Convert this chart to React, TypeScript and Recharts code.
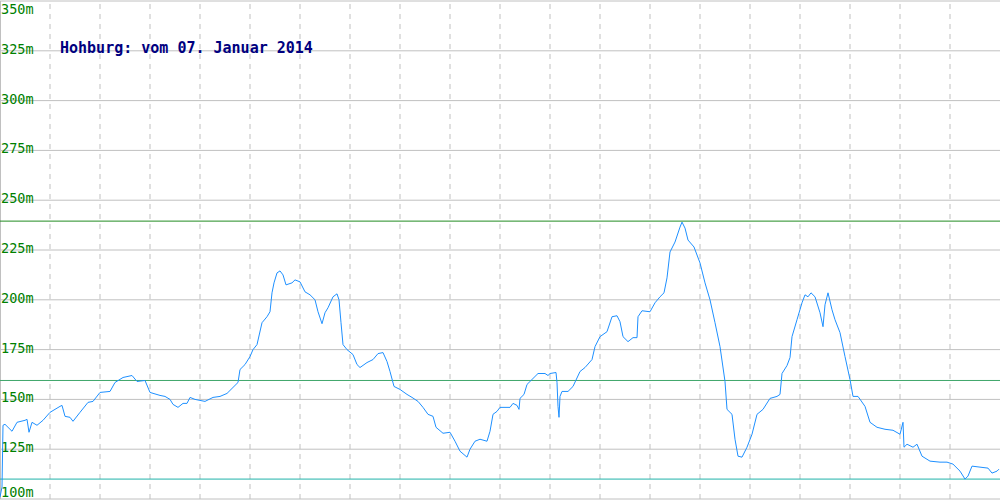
import { LineChart, Line, XAxis, YAxis, CartesianGrid, ReferenceLine } from 'recharts';

// Zeitindex (Messpunkte über den Tag) und Pegel in m
const time = [
    0, 2, 3, 5, 12, 17, 25, 27, 29, 32, 37, 43, 50, 60, 62, 65, 70, 73, 80, 88,
    93, 100, 110, 115, 123, 132, 137, 145, 150, 160, 165, 170, 173, 178, 183, 187, 190, 195, 200, 205,
    213, 220, 227, 232, 238, 240, 245, 250, 253, 257, 262, 267, 270, 272, 274, 277, 280, 283, 286, 292,
    295, 300, 305, 310, 315, 318, 322, 325, 328, 333, 337, 339, 341, 343, 347, 353, 357, 360, 367, 373,
    378, 383, 387, 390, 394, 400, 407, 412, 418, 423, 428, 433, 436, 443, 450, 455, 460, 467, 470, 475,
    480, 487, 490, 493, 497, 500, 510, 513, 517, 519, 520, 524, 527, 532, 538, 545, 548, 550, 556, 557,
    558, 559, 560, 562, 568, 573, 580, 585, 592, 595, 600, 607, 612, 617, 620, 623, 628, 633, 637, 638,
    642, 650, 655, 660, 664, 667, 670, 675, 680, 682, 685, 688, 694, 700, 705, 710, 715, 720, 725, 727,
    732, 735, 738, 742, 747, 752, 757, 763, 770, 777, 780, 782, 787, 790, 792, 797, 802, 805, 808, 811,
    815, 820, 823, 825, 828, 832, 835, 840, 845, 850, 853, 858, 865, 870, 877, 885, 893, 900, 903, 904,
    907, 913, 917, 922, 930, 940, 947, 953, 960, 965, 968, 972, 980, 988, 992, 997, 999,
];

const level = [
    101, 106, 137, 137.5, 134, 138.5, 139.5, 140, 133.5, 138.5, 137, 139.5, 143.5, 146.5, 147, 141.5, 141, 139, 143.5, 148.5,
    149, 153.5, 154, 158.5, 161, 162, 159, 159.5, 153.5, 152, 151.5, 150, 147.5, 146, 148, 148, 151, 150, 149.5, 149,
    151, 151.5, 153, 155.5, 158.5, 165, 167.5, 171.5, 175, 177.5, 188.5, 191.5, 194, 203.5, 208.5, 213.5, 214.5, 212.5, 207.5, 208.5,
    210, 209, 204, 202.5, 200, 194, 188, 193.5, 196, 201.5, 203, 200, 188.5, 177.5, 175, 172.5, 167.5, 166, 168.5, 170,
    173, 173.5, 169, 164, 156.5, 155, 152.5, 151, 149, 146, 142.5, 141.5, 136, 133, 133.5, 129, 124, 121, 125, 129,
    130, 129, 134, 142.5, 144, 146, 146, 148, 147, 145, 150.5, 152.5, 157.5, 160, 163, 163, 162, 163, 163.5, 158.5,
    146.5, 141, 151.5, 154, 154, 156.5, 164, 166, 170, 176.5, 181.5, 184, 191.5, 192, 189, 181.5, 179, 181, 181, 191.5,
    194.5, 194, 198.5, 201.5, 203.5, 211, 224, 229, 236.5, 239, 236, 230, 226.5, 218.5, 208.5, 200, 188.5, 176.5, 159, 145,
    142.5, 130, 121.5, 121, 126, 132.5, 142.5, 145, 150.5, 151.5, 152.5, 163, 167, 171, 181.5, 190, 198.5, 202.5, 201.5, 203.5,
    201.5, 193.5, 186.5, 197.5, 203.5, 195, 190, 183.5, 171.5, 160, 151.5, 151.5, 146.5, 138.5, 136, 135, 134.5, 132.5, 138.5, 126,
    127.5, 126, 127.5, 121.5, 119, 118.5, 118.5, 117.5, 114, 110, 111.5, 116.5, 116, 115.5, 113, 114, 115,
];

const yTicks = [100, 125, 150, 175, 200, 225, 250, 275, 300, 325, 350];
const xTicks = [50, 100, 150, 200, 250, 300, 350, 400, 450, 500, 550, 600, 650, 700, 750, 800, 850, 900, 950];

// Grenzwerte
const maxLevel = 239.5;
const midLevel = 159.5;
const minLevel = 110;

const title = 'Hohburg: vom 07. Januar 2014';

const chartData = time.map((t, i) => ({ t, level: level[i] }));

// Beschriftung der y-Achse innen links
const yLabel = (v: number) => (props: any) => {
    const vb = props.viewBox || {};
    const dy = v === 350 ? 13 : v === 100 ? -2 : 3;
    return (
        <text x={1} y={vb.y + dy} fill="#008000" fontFamily="'DejaVu Sans Mono', monospace" fontSize={13.5}>
            {v}m
        </text>
    );
};

export default function App() {
    return (
        <div style={{ position: 'absolute', left: 0, top: 0, width: 1000, height: 500, background: '#fff' }}>
            <LineChart width={1000} height={500} data={chartData} margin={{ top: 1, right: 0, left: 0, bottom: 1 }}>
                <CartesianGrid vertical={false} stroke="#c0c0c0" />
                <XAxis dataKey="t" type="number" domain={[0, 1000]} hide />
                <YAxis domain={[100, 350]} ticks={yTicks} hide />
                {xTicks.map((x) => (
                    <ReferenceLine key={`v${x}`} x={x} stroke="#c0c0c0" strokeDasharray="5 5" />
                ))}
                <ReferenceLine x={0} stroke="#c0c0c0" strokeWidth={2} />
                <ReferenceLine y={maxLevel} stroke="#228B22" />
                <ReferenceLine y={midLevel} stroke="#3FA66A" />
                <ReferenceLine y={minLevel} stroke="#20B2AA" />
                {yTicks.map((v) => (
                    <ReferenceLine key={`h${v}`} y={v} stroke="none" label={yLabel(v)} />
                ))}
                <Line
                    type="linear"
                    dataKey="level"
                    stroke="#1E90FF"
                    strokeWidth={1}
                    dot={false}
                    isAnimationActive={false}
                />
            </LineChart>
            <svg width={1000} height={500} style={{ position: 'absolute', left: 0, top: 0, pointerEvents: 'none' }}>
                <text x={60} y={53} fill="#000080" fontFamily="'DejaVu Sans Mono', monospace" fontWeight="bold" fontSize={15}>
                    {title}
                </text>
            </svg>
        </div>
    );
}
